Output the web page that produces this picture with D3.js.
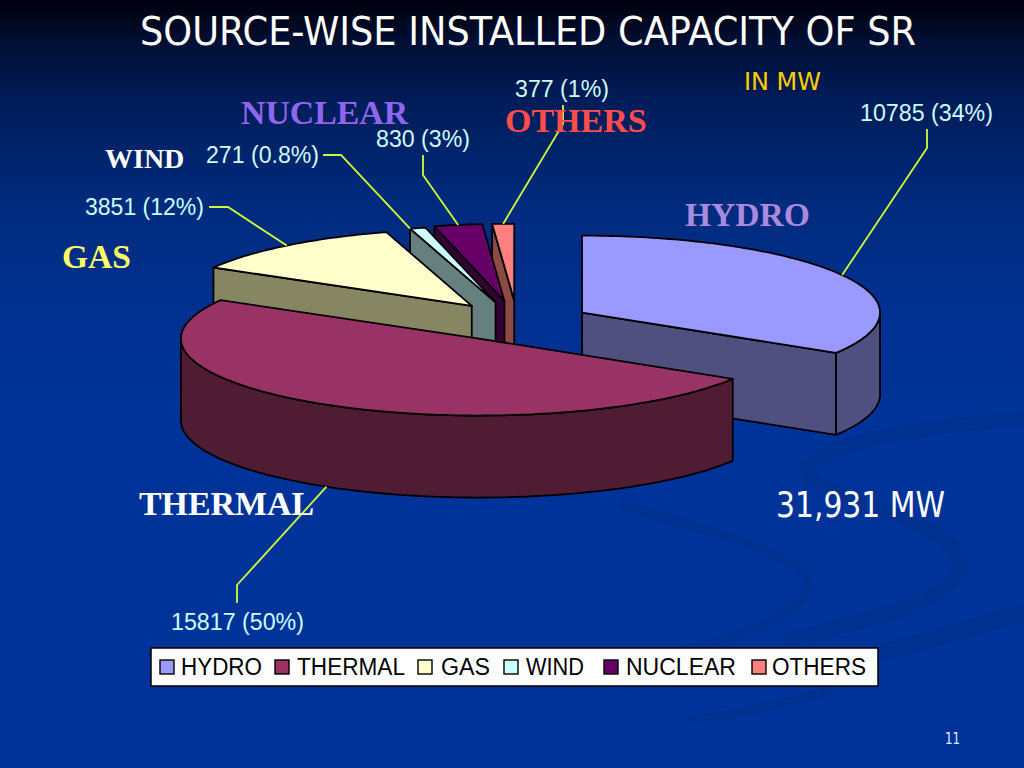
<!DOCTYPE html>
<html><head><meta charset="utf-8">
<script src="https://cdn.jsdelivr.net/npm/d3@7"></script>
<style>html,body{margin:0;padding:0;background:#039;overflow:hidden}svg{display:block}</style>
</head><body><svg id="c" width="1024" height="768" viewBox="0 0 1024 768"></svg>
<script>
// ---- data ----
const categories = ["HYDRO","THERMAL","GAS","WIND","NUCLEAR","OTHERS"];
const capacityMW = [10785,15817,3851,271,830,377];
const valueLabels = ["10785 (34%)","15817 (50%)","3851 (12%)","271 (0.8%)","830 (3%)","377 (1%)"];
const titleText = "SOURCE-WISE INSTALLED CAPACITY OF SR";
const unitText = "IN MW";
const totalText = "31,931 MW";
const pageNumber = "11";

// ---- styles & layout ----
const topColors  = ["#9999ff","#993366","#ffffcc","#ccffff","#660066","#ff8080"];
const sideColors = ["#4f4f80","#4f1c33","#868663","#668080","#330033","#8c4a45"];
const nameColors = ["#a98ade","#ffffff","#ffff66","#ffffff","#8f66ee","#ff4d4d"];
const nameLayout = [[685,226,33.6],[139,515,33.9],[62,268,33.5],[105,168,28],[241,124,33.8],[505,132,34]];
const valueLayout = [[860,121],[171,630],[85,215],[206,163],[376,147],[515,97]];
const valueWidths = [133,133,119,113,94,94];
const leaderBends = [
  [[927,148],[927,129]],[[237,585],[237,603]],[[228,207],[209,207]],
  [[341,155],[323,155]],[[423,175],[423,155]],[[563,124],[563,105]]];
const leaderAt = [0.5,0.5,0.5,0,0.5,0.5];
const sliceNudge = [[0,0],[0,0],[1,-1],[-2,-1],[-1,-2],[0,-2]];
const legendSwatchX = [160,275,418,504,604,752];
const legendTextX = [181,297,441,526,626,772];
const legendTextW = [81,108,49,58,110,94];
const cx=517, cy=322, rx=298, ry=77, depth=82, explode=0.25;

const svg = d3.select("#c");
const defs = svg.append("defs");
const grad = defs.append("linearGradient").attr("id","bg").attr("x1",0).attr("x2",0).attr("y1",0).attr("y2",1);
[[0,"#000010"],[0.02,"#000518"],[0.06,"#001038"],[0.13,"#001c58"],[0.26,"#002a7c"],[0.4,"#003090"],[0.55,"#003399"],[1,"#003399"]]
  .forEach(s=>grad.append("stop").attr("offset",s[0]).attr("stop-color",s[1]));
svg.append("rect").attr("width",1024).attr("height",768).attr("fill","url(#bg)");

// faint background swooshes
const swoosh = svg.append("g").attr("fill","none").attr("stroke","#003090").attr("stroke-linecap","round");
swoosh.append("path").attr("stroke-width",14).attr("d","M1040,418 C930,425 830,440 806,468 C800,482 860,500 920,525 C975,550 975,585 900,610 C860,622 830,630 790,640");
swoosh.append("path").attr("stroke-width",9).attr("d","M624,505 C700,530 790,550 808,580 C815,610 740,640 660,655");
swoosh.append("path").attr("stroke-width",16).attr("d","M1040,608 C960,630 900,650 830,665");
swoosh.append("path").attr("stroke-width",8).attr("d","M830,690 C780,705 730,715 690,720");

// ---- pie geometry ----
const pie = d3.pie().sort(null).value(d=>d)(capacityMW);
const sx = d3.scaleLinear().domain([-1,1]).range([-rx,rx]);
const sy = d3.scaleLinear().domain([-1,1]).range([-ry,ry]);
const slices = pie.map((p,i)=>{
  const mid=(p.startAngle+p.endAngle)/2;
  return {i,a0:p.startAngle,a1:p.endAngle,mid,
    x:cx+explode*sx(Math.sin(mid))+sliceNudge[i][0], y:cy-explode*sy(Math.cos(mid))+sliceNudge[i][1]};
});
const at=(s,a,z=0)=>[s.x+sx(Math.sin(a)), s.y-sy(Math.cos(a))+z];
const arcPts=(s,a0,a1,z=0)=>{
  const n=Math.max(2,Math.ceil((a1-a0)/0.02));
  return d3.range(n+1).map(k=>at(s,a0+(a1-a0)*k/n,z));
};
const closed=d3.line().curve(d3.curveLinearClosed);
const chart=svg.append("g").attr("stroke","#000").attr("stroke-width",1.8).attr("stroke-linejoin","round");
const face=(s,a)=>{
  const p=at(s,a);
  chart.append("path").attr("fill",sideColors[s.i])
    .attr("d",closed([[s.x,s.y],p,[p[0],p[1]+depth],[s.x,s.y+depth]]));
};
[5,4,3,2,0,1].forEach(i=>{
  const s=slices[i];
  const lo=Math.max(s.a0,Math.PI/2), hi=Math.min(s.a1,Math.PI*1.5);
  if(hi>lo){
    chart.append("path").attr("fill",sideColors[i])
      .attr("d",closed(arcPts(s,lo,hi).concat(arcPts(s,lo,hi,depth).reverse())));
  }
  if(s.a0>Math.PI && s.a0<2*Math.PI) face(s,s.a0);
  if(s.a1>0 && s.a1<Math.PI) face(s,s.a1);
  chart.append("path").attr("fill",topColors[i])
    .attr("d",closed([[s.x,s.y]].concat(arcPts(s,s.a0,s.a1))));
});

// ---- leaders ----
const lineGen=d3.line();
slices.forEach(s=>{
  const a=s.a0+(s.a1-s.a0)*leaderAt[s.i];
  const front=Math.cos(a)<0;
  const start=at(s,a,(front?depth:0));
  svg.append("path").attr("fill","none").attr("stroke","#ccff33").attr("stroke-width",1.8)
    .attr("d",lineGen([start].concat(leaderBends[s.i])));
});

// ---- text ----
const LS="'Liberation Sans',Arial,sans-serif", SF="'Liberation Serif',serif", TH="'DejaVu Sans Condensed','DejaVu Sans',sans-serif";
categories.forEach((c,i)=>{
  svg.append("text").attr("x",nameLayout[i][0]).attr("y",nameLayout[i][1]).text(c)
    .attr("font-family",SF).attr("font-weight","bold").attr("font-size",nameLayout[i][2]).attr("fill",nameColors[i]);
  svg.append("text").attr("x",valueLayout[i][0]).attr("y",valueLayout[i][1]).text(valueLabels[i])
    .attr("font-family",LS).attr("font-size",23).attr("fill","#ccffff")
    .attr("textLength",valueWidths[i]).attr("lengthAdjust","spacingAndGlyphs");
});
svg.append("text").attr("x",140).attr("y",45).text(titleText).attr("font-family",TH)
  .attr("font-size",39).attr("fill","#fff").attr("textLength",776).attr("lengthAdjust","spacingAndGlyphs");
svg.append("text").attr("x",744).attr("y",90).text(unitText).attr("font-family",TH)
  .attr("font-size",25).attr("fill","#ffcc00").attr("textLength",77).attr("lengthAdjust","spacingAndGlyphs");
svg.append("text").attr("x",776).attr("y",517).text(totalText).attr("font-family",TH)
  .attr("font-size",35).attr("fill","#fff").attr("textLength",169).attr("lengthAdjust","spacingAndGlyphs");
svg.append("text").attr("x",945).attr("y",744).text(pageNumber).attr("font-family",TH)
  .attr("font-size",16).attr("fill","#e0f0ff").attr("textLength",15).attr("lengthAdjust","spacingAndGlyphs");

// ---- legend ----
svg.append("rect").attr("x",151).attr("y",648).attr("width",727).attr("height",38)
  .attr("fill","#fff").attr("stroke","#000").attr("stroke-width",1.5);
categories.forEach((c,i)=>{
  svg.append("rect").attr("x",legendSwatchX[i]).attr("y",660).attr("width",14).attr("height",14)
    .attr("fill",topColors[i]).attr("stroke","#000").attr("stroke-width",1.4);
  svg.append("text").attr("x",legendTextX[i]).attr("y",675).text(c)
    .attr("font-family",LS).attr("font-size",23.5).attr("fill","#000")
    .attr("textLength",legendTextW[i]).attr("lengthAdjust","spacingAndGlyphs");
});
</script></body></html>
